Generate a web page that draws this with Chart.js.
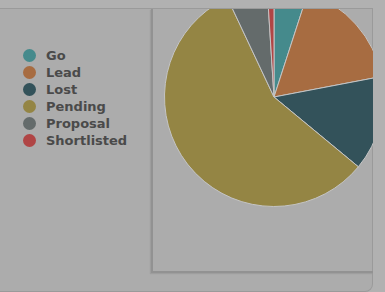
<!DOCTYPE html>
<html>
<head>
<meta charset="utf-8">
<script src="https://cdn.jsdelivr.net/npm/chart.js@4.4.0/dist/chart.umd.min.js"></script>
<style>
    html, body {
        margin: 0;
        padding: 0;
        width: 385px;
        height: 292px;
        overflow: hidden;
        background: #b1b1b1;
        font-family: "DejaVu Sans", sans-serif;
    }
    #panel {
        position: absolute;
        left: -10px;
        top: 8px;
        width: 382px;
        height: 282px;
        background: #acacac;
        border-top: 1px solid #9a9a9a;
        border-right: 1px solid #9a9a9a;
        border-bottom: 1px solid #9a9a9a;
        border-radius: 0 0 8px 0;
    }
    #legend {
        position: absolute;
        left: 23px;
        top: 47px;
        margin: 0;
        padding: 0;
        list-style: none;
    }
    #legend li {
        height: 17px;
        line-height: 17px;
        font-size: 13px;
        font-weight: bold;
        color: #4a4a4a;
        white-space: nowrap;
    }
    #legend span {
        display: inline-block;
        width: 13px;
        height: 13px;
        border-radius: 50%;
        margin-right: 10px;
        vertical-align: -2px;
    }
    #box {
        position: absolute;
        left: 151px;
        top: 9px;
        width: 220px;
        height: 262px;
        overflow: hidden;
        border-left: 2px solid #929292;
        border-bottom: 2px solid #929292;
        box-shadow: -1px 1px 1px rgba(0, 0, 0, 0.08);
    }
    #chartWrap {
        position: absolute;
        left: 11px;
        top: -22px;
        width: 220px;
        height: 220px;
    }
</style>
</head>
<body>
<div id="panel"></div>
<ul id="legend"></ul>
<div id="box">
    <div id="chartWrap"><canvas id="pieChart"></canvas></div>
</div>
<script>
// 案件ステータス別の件数
const labels = ['Go', 'Lead', 'Lost', 'Pending', 'Proposal', 'Shortlisted'];
const counts = [5, 17, 14, 57, 6, 1];
const colors = ['#458a8c', '#a76c41', '#33525a', '#948544', '#646b6b', '#b04545'];

// 凡例はHTMLで作る
const legend = document.getElementById('legend');
labels.forEach((label, i) => {
    const li = document.createElement('li');
    li.innerHTML = `<span style="background:${colors[i]}"></span>${label}`;
    legend.appendChild(li);
});

const ctx = document.getElementById('pieChart').getContext('2d');
const pieChart = new Chart(ctx, {
    type: 'pie',
    data: {
        labels: labels,
        datasets: [{
            data: counts,
            backgroundColor: colors,
            borderColor: '#c4c4c4',
            borderWidth: 1
        }]
    },
    options: {
        responsive: true,
        maintainAspectRatio: false,
        animation: false,
        layout: {
            padding: 0
        },
        plugins: {
            legend: {
                display: false
            },
            tooltip: {
                enabled: false
            }
        }
    }
});
</script>
</body>
</html>
